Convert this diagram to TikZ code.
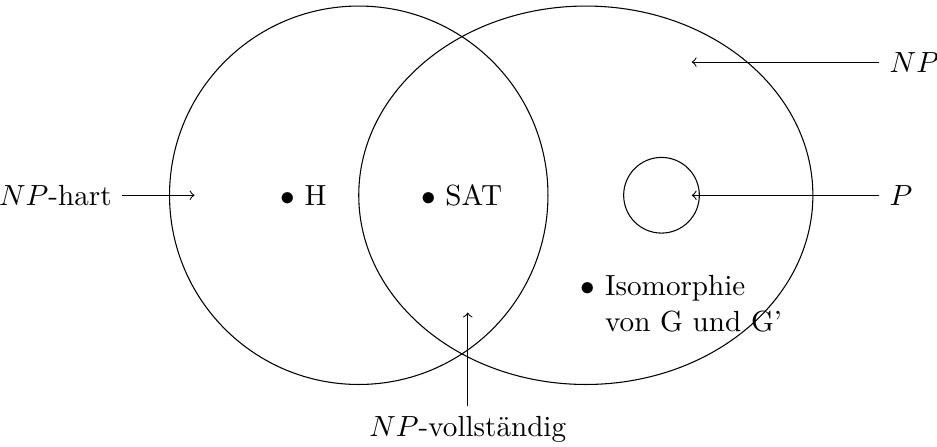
\documentclass[tikz,border=0pt,11pt]{standalone}
\usepackage{amsmath,amssymb}
\usetikzlibrary{arrows.meta,positioning}

\begin{document}
\begin{tikzpicture}[>=to]
\useasboundingbox (-4.74,-3.32) rectangle (7.64,2.58);
% Mengen
\draw (0,0) circle (2.5);
\draw (3,0) ellipse (3 and 2.5);
\draw (4,0) circle (0.5);
% Elemente
\node (h) at (-0.73,0) {$\bullet$ H};
\node (sat) at (1.36,0) {$\bullet$ SAT};
\node[anchor=north west, align=left] (iso) at (2.8,-0.92) {$\bullet$ Isomorphie\\\phantom{$\bullet$} von G und G'};
% Beschriftungen
\coordinate (nptip) at (4.4,1.76);
\coordinate (ptip) at (4.4,0);
\coordinate (harttip) at (-2.17,0);
\coordinate (volltip) at (1.44,-1.55);
\node[anchor=west] (np) at (6.88,1.76) {$NP$};
\node[anchor=west] (p) at (6.88,0) {$P$};
\node[anchor=east] (hart) at (-3.13,0) {$NP$-hart};
\node[anchor=north] (voll) at (1.44,-2.79) {$NP$-vollst\"andig};
\draw[->] (np) -- (nptip);
\draw[->] (p) -- (ptip);
\draw[->] (hart) -- (harttip);
\draw[->] (voll) -- (volltip);
\end{tikzpicture}
\end{document}
